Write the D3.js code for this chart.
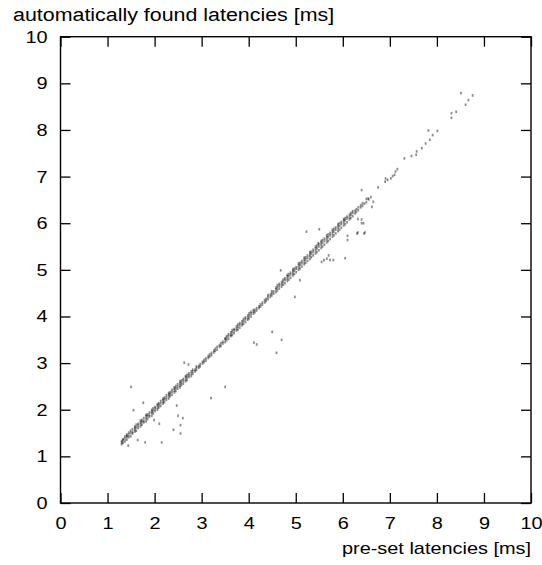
<!DOCTYPE html>
<html>
<head>
<meta charset="utf-8">
<script src="https://cdn.jsdelivr.net/npm/d3@7"></script>
<style>
  body { margin: 0; background: #fff; }
  svg { display: block; font-family: "Liberation Sans", Arial, Helvetica, sans-serif; }
</style>
</head>
<body>
<svg width="542" height="565"></svg>
<script>
// tick values for both axes
const xTicks = [0, 1, 2, 3, 4, 5, 6, 7, 8, 9, 10];
const yTicks = [0, 1, 2, 3, 4, 5, 6, 7, 8, 9, 10];

const titleY = "automatically found latencies [ms]";
const titleX = "pre-set latencies [ms]";

// main band: [pre-set, found, found, ...]
const band = [
  [1.30, 1.26, 1.30, 1.33], [1.33, 1.29, 1.35, 1.37], [1.37, 1.32, 1.38, 1.43],
  [1.41, 1.36, 1.42, 1.44, 1.47], [1.45, 1.41, 1.46, 1.51], [1.49, 1.43, 1.50, 1.55],
  [1.53, 1.49, 1.52, 1.58], [1.58, 1.53, 1.57, 1.61, 1.64], [1.61, 1.55, 1.62, 1.68],
  [1.65, 1.61, 1.66, 1.70], [1.70, 1.64, 1.69, 1.73, 1.77], [1.73, 1.68, 1.74, 1.78],
  [1.77, 1.73, 1.76, 1.82], [1.82, 1.75, 1.81, 1.86, 1.89], [1.85, 1.80, 1.86, 1.90],
  [1.89, 1.85, 1.89, 1.94], [1.94, 1.87, 1.93, 1.96, 2.00], [1.97, 1.92, 1.98, 2.03],
  [2.01, 1.97, 2.02, 2.06], [2.06, 2.00, 2.04, 2.09, 2.12], [2.09, 2.05, 2.10, 2.14],
  [2.13, 2.08, 2.14, 2.19], [2.18, 2.13, 2.17, 2.21, 2.24], [2.21, 2.16, 2.22, 2.26],
  [2.25, 2.21, 2.26, 2.31], [2.30, 2.24, 2.29, 2.33, 2.36], [2.33, 2.29, 2.34, 2.38],
  [2.37, 2.32, 2.38, 2.43], [2.42, 2.37, 2.41, 2.45, 2.48], [2.45, 2.40, 2.46, 2.51],
  [2.49, 2.45, 2.50, 2.55], [2.54, 2.48, 2.52, 2.57, 2.61], [2.57, 2.53, 2.58, 2.63],
  [2.61, 2.56, 2.62, 2.66], [2.66, 2.61, 2.65, 2.70, 2.72], [2.69, 2.64, 2.70, 2.75],
  [2.73, 2.70, 2.74, 2.78], [2.78, 2.72, 2.77, 2.82], [2.81, 2.77, 2.82, 2.86],
  [2.86, 2.82, 2.86], [2.89, 2.85, 2.90, 2.93], [2.94, 2.90, 2.94],
  [2.97, 2.93, 2.98], [3.02, 2.99, 3.03], [3.05, 3.02, 3.07],
  [3.09, 3.05, 3.10], [3.14, 3.11, 3.15], [3.17, 3.14, 3.19],
  [3.21, 3.17, 3.22], [3.26, 3.23, 3.27], [3.29, 3.26, 3.31],
  [3.33, 3.29, 3.35], [3.38, 3.35, 3.39], [3.41, 3.37, 3.43],
  [3.45, 3.42, 3.46], [3.50, 3.45, 3.51, 3.53], [3.53, 3.49, 3.54, 3.58],
  [3.57, 3.52, 3.58, 3.62], [3.62, 3.58, 3.61, 3.66], [3.65, 3.60, 3.66, 3.71],
  [3.69, 3.64, 3.70, 3.73], [3.74, 3.70, 3.74, 3.79], [3.77, 3.72, 3.78, 3.83],
  [3.81, 3.76, 3.82, 3.86], [3.86, 3.81, 3.85, 3.90], [3.89, 3.84, 3.90, 3.95],
  [3.93, 3.88, 3.94, 3.98], [3.98, 3.93, 3.97, 4.02], [4.01, 3.96, 4.02, 4.07],
  [4.05, 4.00, 4.06, 4.10], [4.10, 4.06, 4.10, 4.14], [4.13, 4.09, 4.14],
  [4.17, 4.13, 4.18], [4.22, 4.18, 4.22], [4.25, 4.21, 4.26],
  [4.29, 4.25, 4.30], [4.34, 4.30, 4.35], [4.37, 4.33, 4.38],
  [4.41, 4.37, 4.42, 4.46], [4.46, 4.42, 4.47], [4.49, 4.45, 4.50, 4.54],
  [4.53, 4.49, 4.54], [4.58, 4.52, 4.58, 4.62], [4.61, 4.56, 4.62, 4.67],
  [4.65, 4.60, 4.66, 4.70], [4.70, 4.64, 4.69, 4.74], [4.73, 4.68, 4.74, 4.79],
  [4.77, 4.71, 4.78, 4.82], [4.82, 4.76, 4.81, 4.86, 4.89], [4.85, 4.79, 4.86, 4.91],
  [4.89, 4.83, 4.90, 4.94], [4.94, 4.88, 4.93, 4.98, 5.01], [4.97, 4.91, 4.98, 5.03],
  [5.01, 4.95, 5.02, 5.06], [5.06, 5.00, 5.05, 5.10, 5.14], [5.09, 5.03, 5.10, 5.15],
  [5.13, 5.07, 5.14, 5.19], [5.18, 5.12, 5.17, 5.22, 5.26], [5.21, 5.15, 5.22, 5.27],
  [5.25, 5.19, 5.26, 5.31], [5.30, 5.23, 5.29, 5.34, 5.38], [5.33, 5.27, 5.34, 5.39],
  [5.37, 5.31, 5.38, 5.43], [5.42, 5.35, 5.41, 5.46, 5.50], [5.45, 5.38, 5.46, 5.52],
  [5.49, 5.42, 5.50, 5.55], [5.54, 5.47, 5.53, 5.58, 5.62], [5.57, 5.50, 5.58, 5.64],
  [5.61, 5.54, 5.62, 5.67], [5.66, 5.59, 5.65, 5.70, 5.74], [5.69, 5.62, 5.70, 5.76],
  [5.73, 5.66, 5.74, 5.79], [5.78, 5.71, 5.77, 5.82, 5.86], [5.81, 5.74, 5.82, 5.88],
  [5.85, 5.78, 5.86, 5.91], [5.90, 5.83, 5.89, 5.94, 5.98], [5.93, 5.86, 5.94, 6.00],
  [5.97, 5.90, 5.98, 6.03], [6.02, 5.95, 6.01, 6.06, 6.09], [6.05, 5.98, 6.06, 6.11],
  [6.09, 6.02, 6.10, 6.14], [6.14, 6.08, 6.13, 6.18], [6.17, 6.11, 6.18, 6.22],
  [6.21, 6.15, 6.22, 6.26], [6.26, 6.21, 6.27], [6.29, 6.24, 6.30],
  [6.33, 6.28, 6.34], [6.38, 6.34, 6.39], [6.42, 6.37, 6.43],
  [6.46, 6.42], [6.50, 6.45, 6.52], [6.55, 6.51], [6.60, 6.56]
];

// sparse points above 6.6 ms
const upper = [
  [6.75, 6.77], [6.90, 6.89], [6.91, 6.96], [6.95, 6.93], [7.02, 6.96],
  [7.06, 7.01], [7.10, 7.04], [7.12, 7.11], [7.16, 7.16], [7.31, 7.39],
  [7.46, 7.44], [7.56, 7.47], [7.57, 7.54], [7.68, 7.61], [7.76, 7.71],
  [7.85, 7.79], [7.91, 7.89], [7.82, 7.99], [8.01, 7.98], [8.31, 8.26],
  [8.31, 8.36], [8.41, 8.39], [8.61, 8.54], [8.67, 8.64], [8.51, 8.79],
  [8.76, 8.74]
];

// points off the diagonal
const outliers = [
  [1.44, 1.23], [1.50, 2.49], [1.55, 1.99], [1.64, 1.35], [1.76, 2.15],
  [1.80, 1.30], [1.99, 1.78], [2.10, 1.70], [2.15, 1.30], [2.40, 1.57],
  [2.47, 2.09], [2.50, 1.87], [2.55, 1.67], [2.55, 1.49], [2.60, 1.82],
  [2.63, 3.01], [2.72, 2.97], [3.20, 2.25], [3.50, 2.49], [4.11, 3.44],
  [4.17, 3.40], [4.50, 3.67], [4.59, 3.22], [4.70, 3.50], [4.68, 4.99],
  [4.98, 4.42], [5.09, 4.78], [5.23, 5.82], [5.50, 5.87], [5.48, 5.57],
  [5.55, 5.17], [5.60, 5.21], [5.66, 5.24], [5.73, 5.21], [5.80, 5.21],
  [5.70, 5.31], [6.05, 5.25], [6.10, 5.73], [6.10, 5.64], [6.30, 5.78],
  [6.45, 5.78], [6.32, 5.80], [6.47, 5.80], [6.40, 6.00], [6.44, 6.00],
  [6.32, 6.09], [6.40, 6.08], [6.40, 6.71], [6.62, 6.35], [6.65, 6.46],
  [6.54, 6.53]
];

const W = 542, H = 565;
const margin = {top: 36.7, left: 60.5, right: 11, bottom: 62};
const innerW = W - margin.left - margin.right;
const innerH = H - margin.top - margin.bottom;
const sx = 1.17; // text in the reference is a bit wide

const svg = d3.select("svg");
const g = svg.append("g")
  .attr("transform", `translate(${margin.left},${margin.top})`);

const x = d3.scaleLinear().domain([0, 10]).range([0, innerW]);
const y = d3.scaleLinear().domain([0, 10]).range([innerH, 0]);

// points
const pts = [];
band.forEach(r => r.slice(1).forEach(v => pts.push([r[0], v])));
upper.forEach(p => pts.push(p));
outliers.forEach(p => pts.push(p));

g.selectAll("rect.dot").data(pts)
  .enter().append("rect")
    .attr("class", "dot")
    .attr("x", d => x(d[0]) - 0.9)
    .attr("y", d => y(d[1]) - 1.3)
    .attr("width", 1.8)
    .attr("height", 2.6)
    .attr("fill", "#000")
    .attr("fill-opacity", 0.45);

// axes, ticks pointing inward
const styleAxis = sel => {
  sel.select(".domain").remove();
  sel.selectAll(".tick line").attr("stroke", "#000").attr("stroke-width", 1.3);
  sel.selectAll(".tick text")
    .attr("fill", "#000")
    .attr("font-size", "17px")
    .attr("font-family", "'Liberation Sans', Arial, sans-serif");
};

const xb = g.append("g")
  .attr("transform", `translate(0,${innerH})`)
  .call(d3.axisBottom(x).tickValues(xTicks).tickFormat(d3.format("d"))
    .tickSizeInner(-10).tickSizeOuter(0).tickPadding(14))
  .call(styleAxis);
xb.selectAll(".tick text").attr("transform", `scale(${sx},1)`);

const yl = g.append("g")
  .call(d3.axisLeft(y).tickValues(yTicks).tickFormat(d3.format("d"))
    .tickSizeInner(-10).tickSizeOuter(0).tickPadding(11))
  .call(styleAxis);
yl.selectAll(".tick text").attr("transform", `scale(${sx},1)`);

g.append("g")
  .call(d3.axisTop(x).tickValues(xTicks).tickFormat("")
    .tickSizeInner(-10).tickSizeOuter(0))
  .call(styleAxis);

g.append("g")
  .attr("transform", `translate(${innerW},0)`)
  .call(d3.axisRight(y).tickValues(yTicks).tickFormat("")
    .tickSizeInner(-10).tickSizeOuter(0))
  .call(styleAxis);

// frame
g.append("rect")
  .attr("width", innerW)
  .attr("height", innerH)
  .attr("fill", "none")
  .attr("stroke", "#000")
  .attr("stroke-width", 1.4);

// titles
svg.append("text")
  .attr("transform", `translate(13,21) scale(1.19,1)`)
  .attr("font-size", "18px")
  .attr("fill", "#000")
  .text(titleY);

svg.append("text")
  .attr("transform", `translate(${margin.left + innerW},554) scale(${sx},1)`)
  .attr("text-anchor", "end")
  .attr("font-size", "17px")
  .attr("fill", "#000")
  .text(titleX);
</script>
</body>
</html>
